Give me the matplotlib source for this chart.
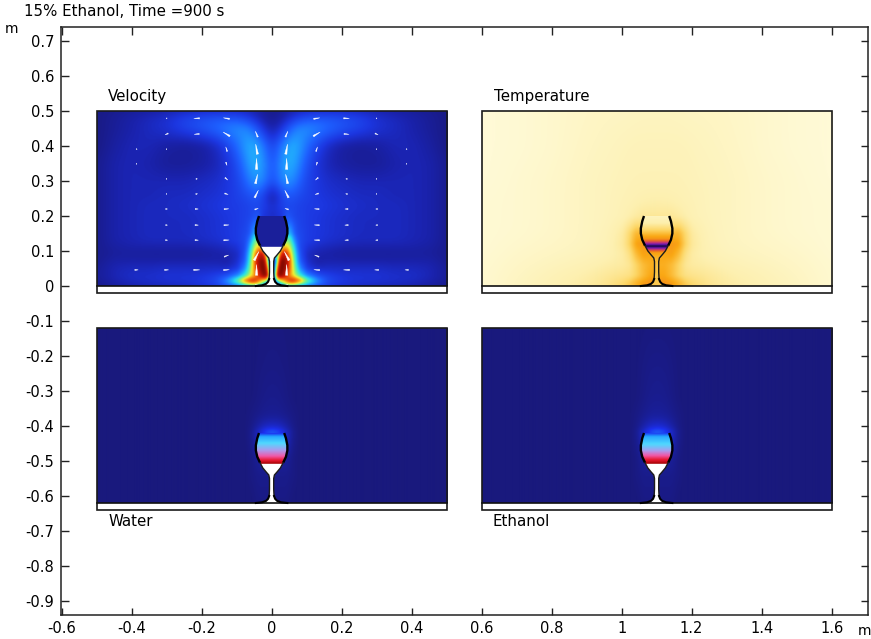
import numpy as np
import matplotlib
matplotlib.use("Agg")
import matplotlib.pyplot as plt
from matplotlib.colors import LinearSegmentedColormap
from matplotlib.collections import PolyCollection
from matplotlib.patches import Polygon, Rectangle

W, H = 871, 639
TITLE = "15% Ethanol, Time =900 s"
XTICKS = [-0.6, -0.4, -0.2, 0, 0.2, 0.4, 0.6, 0.8, 1, 1.2, 1.4, 1.6]
YTICKS = [0.7, 0.6, 0.5, 0.4, 0.3, 0.2, 0.1, 0, -0.1, -0.2, -0.3, -0.4, -0.5, -0.6, -0.7, -0.8, -0.9]
LABELS = ["Velocity", "Temperature", "Water", "Ethanol"]

# Glass half profile (x offset, height)
GLASS_X = [.036, .041, .045, .045, .041, .033, .025, .015, .008, .006, .006, .007, .010, .016, .027, .045]
GLASS_Y = [.200, .185, .165, .150, .132, .115, .100, .088, .080, .070, .040, .020, .012, .006, .002, .000]
SURFACE_Y = .112

# Velocity magnitude (half panel, rows from top to bottom)
VEL_X = [0, .008, .015, .022, .03, .04, .05, .06, .07, .08, .10, .13, .16, .20, .25, .30, .35, .40, .45, .50]
VEL_Y = [.50, .48, .45, .40, .35, .30, .26, .23, .20, .18, .15, .13, .11, .09, .07, .05, .03, .015, .006, 0]
VEL = [
 [.02,.02,.02,.03,.03,.04,.05,.05,.06,.06,.07,.07,.07,.07,.06,.05,.04,.03,.02,.01],
 [.02,.02,.03,.04,.05,.07,.08,.10,.12,.13,.15,.16,.16,.15,.13,.09,.07,.05,.03,.01],
 [.05,.05,.07,.09,.11,.14,.17,.20,.22,.23,.23,.21,.18,.15,.12,.09,.07,.05,.03,.01],
 [.12,.13,.16,.19,.22,.25,.27,.28,.27,.24,.18,.12,.07,.04,.03,.04,.06,.06,.04,.01],
 [.14,.16,.19,.22,.25,.27,.28,.27,.24,.20,.14,.09,.06,.04,.03,.03,.05,.06,.05,.02],
 [.13,.15,.18,.21,.23,.24,.24,.22,.19,.16,.12,.10,.08,.07,.06,.06,.06,.06,.05,.02],
 [.03,.05,.08,.11,.14,.16,.16,.15,.14,.13,.12,.10,.09,.08,.07,.07,.06,.06,.05,.02],
 [.08,.09,.10,.11,.12,.13,.13,.13,.12,.12,.11,.11,.10,.09,.08,.07,.07,.06,.05,.02],
 [.08,.08,.09,.09,.10,.17,.15,.13,.12,.12,.11,.10,.09,.08,.07,.07,.07,.06,.05,.02],
 [.08,.08,.09,.09,.10,.18,.20,.15,.13,.12,.11,.10,.09,.08,.07,.07,.07,.06,.05,.02],
 [.10,.10,.10,.15,.22,.25,.28,.19,.14,.13,.11,.10,.09,.08,.07,.07,.07,.06,.05,.02],
 [.20,.20,.25,.32,.40,.45,.42,.26,.17,.13,.11,.10,.09,.08,.07,.07,.07,.06,.05,.02],
 [.30,.30,.35,.50,.62,.62,.52,.36,.20,.13,.09,.07,.06,.05,.05,.05,.05,.05,.04,.02],
 [.30,.30,.40,.72,.88,.82,.65,.42,.25,.14,.07,.05,.04,.03,.025,.025,.025,.03,.03,.02],
 [.05,.10,.55,.95,1.0,.92,.72,.48,.28,.16,.08,.04,.05,.05,.05,.05,.05,.05,.05,.02],
 [.03,.25,.80,1.0,1.0,.88,.70,.52,.34,.22,.10,.07,.08,.08,.08,.08,.07,.07,.06,.03],
 [.03,.40,.95,1.0,.92,.78,.66,.55,.45,.34,.20,.12,.10,.09,.09,.09,.08,.08,.06,.03],
 [.05,.15,.50,.55,.60,.72,.80,.82,.76,.68,.45,.27,.17,.12,.10,.10,.09,.08,.06,.03],
 [.02,.05,.15,.30,.42,.55,.62,.62,.56,.48,.34,.22,.15,.12,.10,.09,.08,.07,.05,.02],
 [.01,.03,.08,.15,.20,.28,.30,.30,.27,.22,.16,.11,.08,.07,.06,.05,.05,.04,.03,.01],
]
VEL_INNER = .035

# Arrows (half panel): positions and components
ARR_X = [.043, .129, .214, .300, .386, .470]
ARR_Y = [.479, .434, .391, .349, .306, .263, .220, .174, .131, .086, .046, .003]
ARR_U = [
 [  0,  18,  17,   2,   0,   0],
 [  7,  20,  15,   9,   0,   0],
 [  5,   4,   0,   1,   2,   0],
 [  0,  -3,   0,   0,   1,   0],
 [ -6,  -8,  -4,  -1,   0,   0],
 [-11, -10,  -5,  -1,   0,   0],
 [-10, -14,  -9,  -5,   0,   0],
 [  0, -15, -10,  -5,   0,   0],
 [  0, -16, -10,  -6,   0,   0],
 [-14, -13,   0,   0,   0,   0],
 [  0, -17, -18, -12, -10,   0],
 [ -6,   0,   0,   0,   0,   0],
]
ARR_V = [
 [  0,   3,   0,   0,   0,   0],
 [ 17,  12,  -1,  -4,   0,   0],
 [ 30,  13,   0,   0,  -1,   0],
 [ 33,  -9,   0,   0,   0,   0],
 [ 28,  -7,   0,   0,   0,   0],
 [ 22,  -3,   1,   0,   0,   0],
 [  3,   1,   0,   0,   0,   0],
 [  0,   1,   0,   0,   0,   0],
 [  0,   1,   0,   0,   0,   0],
 [ 26,   5,   0,   0,   0,   0],
 [ 32,   1,   0,   0,   0,   0],
 [  1,   0,   0,   0,   0,   0],
]

# Temperature (half panel)
T_X = [0, .02, .04, .06, .08, .10, .15, .20, .30, .40, .50]
T_Y = [.50, .40, .30, .25, .20, .18, .15, .12, .09, .06, .03, .01, 0]
TEMP = [
 [.07,.07,.07,.07,.06,.06,.06,.05,.03,.01,.00],
 [.09,.09,.09,.09,.09,.08,.07,.06,.03,.01,.00],
 [.10,.10,.10,.10,.10,.09,.08,.07,.04,.02,.00],
 [.12,.12,.12,.11,.10,.10,.08,.07,.04,.02,.01],
 [.16,.16,.16,.14,.12,.10,.08,.07,.04,.02,.01],
 [.20,.20,.20,.22,.16,.12,.08,.07,.04,.02,.01],
 [.32,.32,.34,.36,.24,.14,.09,.07,.04,.02,.01],
 [.42,.42,.44,.42,.26,.15,.09,.07,.05,.03,.01],
 [.40,.40,.42,.34,.20,.13,.10,.08,.06,.04,.01],
 [.38,.38,.34,.26,.17,.14,.13,.11,.08,.05,.02],
 [.40,.40,.34,.26,.20,.18,.16,.13,.10,.06,.02],
 [.45,.45,.42,.36,.28,.23,.18,.15,.11,.07,.02],
 [.46,.46,.44,.37,.30,.25,.18,.15,.11,.07,.02],
]
T_IN_Y = [.000, .020, .060, .080, .095, .103, .110, .114, .118, .125, .135, .145, .160, .180, .200]
T_IN   = [.300, .300, .320, .360, .420, .620, .850, 1.00, .850, .650, .450, .380, .260, .130, .080]

# Species concentration, water and ethanol panels
C_X = [0, .02, .04, .06, .08, .12, .20, .50]
C_Y = [.50, .40, .30, .25, .22, .205, .17, .13, .08, 0]
WATER = [
 [.005,.005,.003,.00,.00,.00,.00,.00],
 [.01,.01,.005,.00,.00,.00,.00,.00],
 [.02,.02,.01,.00,.00,.00,.00,.00],
 [.03,.03,.02,.01,.00,.00,.00,.00],
 [.09,.08,.05,.01,.00,.00,.00,.00],
 [.24,.20,.10,.02,.00,.00,.00,.00],
 [.10,.10,.08,.02,.00,.00,.00,.00],
 [.04,.04,.04,.01,.00,.00,.00,.00],
 [.02,.02,.02,.01,.00,.00,.00,.00],
 [.01,.01,.01,.00,.00,.00,.00,.00],
]
ETHANOL = [
 [.005,.005,.003,.00,.00,.00,.00,.00],
 [.015,.015,.01,.00,.00,.00,.00,.00],
 [.025,.025,.015,.00,.00,.00,.00,.00],
 [.04,.04,.025,.01,.00,.00,.00,.00],
 [.10,.09,.05,.01,.00,.00,.00,.00],
 [.25,.21,.11,.02,.00,.00,.00,.00],
 [.10,.10,.08,.02,.00,.00,.00,.00],
 [.04,.04,.04,.01,.00,.00,.00,.00],
 [.02,.02,.02,.01,.00,.00,.00,.00],
 [.01,.01,.01,.00,.00,.00,.00,.00],
]
C_IN_Y = [.112, .122, .135, .150, .165, .175, .190, .200]
W_IN   = [1.00, .820, .670, .550, .460, .400, .320, .150]
E_IN   = [1.00, .840, .690, .540, .440, .390, .320, .170]

CM_VEL = LinearSegmentedColormap.from_list("vel", [(0, "#19197d"), (.05, "#1a22ac"), (.10, "#1c36e0"), (.17, "#1e60ff"),
    (.25, "#20a0ff"), (.33, "#28e0e8"), (.43, "#70f090"), (.55, "#f0f030"), (.68, "#f88010"), (.82, "#d81c08"), (1, "#7a0800")])
CM_T = LinearSegmentedColormap.from_list("temp", [(0, "#fffad6"), (.12, "#fdf0b0"), (.25, "#fdd86a"), (.4, "#faa814"),
    (.55, "#ec6a20"), (.68, "#c03080"), (.82, "#6a18b0"), (1, "#0a0540")])
CM_C = LinearSegmentedColormap.from_list("conc", [(0, "#19197d"), (.15, "#1c30f0"), (.30, "#20a0ff"), (.42, "#50d8ff"),
    (.55, "#b098ec"), (.68, "#f058a8"), (.82, "#e81830"), (1, "#a00000")])


def smooth(a, n, axis):
    k = np.exp(-0.5 * (np.arange(-3 * n, 3 * n + 1) / n) ** 2)
    k /= k.sum()
    pad = 3 * n
    b = np.moveaxis(a, axis, 0)
    b = np.concatenate([np.repeat(b[:1], pad, 0), b, np.repeat(b[-1:], pad, 0)])
    b = np.apply_along_axis(lambda v: np.convolve(v, k, mode="valid"), 0, b)
    return np.moveaxis(b, 0, axis)


def field(x_half, y_desc, z, sharp=3, soft=10):
    """Resample the half-panel table on a pixel raster (top row first)."""
    z = np.asarray(z, float)
    xs = np.array(x_half)
    ys = np.array(y_desc)[::-1]
    z = z[::-1]
    xf = np.abs(np.linspace(-.5, .5, 700))
    yf = np.linspace(0, .5, 350)
    zy = np.array([np.interp(yf, ys, z[:, j]) for j in range(z.shape[1])]).T
    zz = np.array([np.interp(xf, xs, zy[i]) for i in range(zy.shape[0])])
    a = smooth(smooth(zz, sharp, 0), sharp, 1)
    b = smooth(smooth(zz, soft, 0), soft, 1)
    wx = np.clip((xf - .08) / .08, 0, 1)[None, :]
    wy = np.clip((yf - .16) / .1, 0, 1)[:, None]
    w = np.maximum(wx, wy)
    return (a * (1 - w) + b * w)[::-1]


fig = plt.figure(figsize=(W / 100, H / 100), dpi=100)
X0 = 271.6
L, R, T, B = 60.5, 868, 27, 614.7
ax = fig.add_axes([L / W, 1 - B / H, (R - L) / W, (B - T) / H])
xlim = ((L - X0) / 350, (R - X0) / 350)
ylim = ((286 - B) / 350, (286 - T) / 350)
ax.set_xticks(XTICKS)
ax.set_xticklabels(["%g" % v for v in XTICKS])
ax.set_yticks(YTICKS)
ax.set_yticklabels(["%g" % v for v in YTICKS])
ax.tick_params(direction="in", length=5.4, width=1, top=True, right=True, labelsize=10.5, color="#222222",
               labelcolor="black", pad=4.5)
for s in ax.spines.values():
    s.set_linewidth(1.1)
    s.set_color("#222222")

gx = np.array(GLASS_X)
gy = np.array(GLASS_Y)


def glass_poly(cx, y0):
    return np.r_[np.c_[cx - gx, y0 + gy], np.c_[cx + gx[::-1], y0 + gy[::-1]]]


def lower_poly(cx, y0):
    m = gy < SURFACE_Y
    hx = np.r_[np.interp(SURFACE_Y, gy[::-1], gx[::-1]), gx[m]]
    hy = np.r_[SURFACE_Y, gy[m]]
    return np.r_[np.c_[cx - hx, y0 + hy], np.c_[cx + hx[::-1], y0 + hy[::-1]]]


def panel(cx, y0, z, cmap):
    x0 = cx - .5
    ax.imshow(z, extent=[x0, x0 + 1, y0, y0 + .5], cmap=cmap, vmin=0, vmax=1, aspect="auto",
              interpolation="bilinear", zorder=1)
    ax.add_patch(Rectangle((x0, y0 - .02), 1, .02, fc="white", ec="none", zorder=1))


def inner(cx, y0, ys, vals, cmap):
    yf = np.linspace(0, .2, 200)
    col = np.interp(yf, ys, vals)[::-1, None]
    im = ax.imshow(col, extent=[cx - .06, cx + .06, y0, y0 + .2], cmap=cmap, vmin=0, vmax=1, aspect="auto",
                   interpolation="bilinear", zorder=2)
    im.set_clip_path(Polygon(glass_poly(cx, y0), transform=ax.transData))


def outline(cx, y0):
    x0 = cx - .5
    ax.add_patch(Rectangle((x0, y0 - .02), 1, .52, fc="none", ec="#1a1a1a", lw=1.2, zorder=6))
    ax.plot([x0, x0 + 1], [y0, y0], color="#111111", lw=1.2, zorder=6)
    thick = gy >= .115
    thin = (gy <= .115) & (gy >= .02)
    foot = gy <= .02
    for sign in (-1, 1):
        ax.plot(cx + sign * gx[thick], y0 + gy[thick], color="black", lw=1.7, zorder=7, solid_capstyle="butt")
        ax.plot(cx + sign * gx[thin], y0 + gy[thin], color="#1c1c1c", lw=1.0, zorder=7)
        ax.plot(cx + sign * gx[foot], y0 + gy[foot], color="black", lw=1.5, zorder=7)


# Velocity
panel(0, 0, field(VEL_X, VEL_Y, VEL), CM_VEL)
ax.add_patch(Polygon(glass_poly(0, 0), fc=CM_VEL(VEL_INNER), ec="none", zorder=2))
ax.add_patch(Polygon(lower_poly(0, 0), fc="white", ec="none", zorder=3))
tris = []
for i, yy in enumerate(ARR_Y):
    for j, xx in enumerate(ARR_X):
        u, v = ARR_U[i][j] / 1050, ARR_V[i][j] / 1050
        ln = np.hypot(u, v)
        if ln == 0:
            continue
        nx, ny = -v / ln, u / ln
        hw = max(ln * .11, .0016)
        for s in (1, -1):
            xc = s * (xx - u / 2)
            yc = yy - v / 2
            tris.append([(xc + s * u, yc + v), (xc + s * nx * hw, yc + ny * hw), (xc - s * nx * hw, yc - ny * hw)])
ax.add_collection(PolyCollection(tris, facecolors="white", edgecolors="white", linewidths=.3, zorder=4))
outline(0, 0)

# Temperature
panel(1.1, 0, field(T_X, T_Y, TEMP, 3, 16), CM_T)
inner(1.1, 0, T_IN_Y, T_IN, CM_T)
outline(1.1, 0)

# Water, Ethanol
for cx, z, vals in ((0, WATER, W_IN), (1.1, ETHANOL, E_IN)):
    panel(cx, -.62, field(C_X, C_Y, z, 3, 10), CM_C)
    inner(cx, -.62, C_IN_Y, vals, CM_C)
    ax.add_patch(Polygon(lower_poly(cx, -.62), fc="white", ec="none", zorder=3))
    outline(cx, -.62)

ax.set_xlim(*xlim)
ax.set_ylim(*ylim)


def px_text(x, y, s, size=10.85):
    fig.text(x / W, 1 - y / H, s, fontsize=size, color="black", va="center")


px_text(24, 12, TITLE)
px_text(4.5, 29, "m", 10)
px_text(858, 631, "m", 10)
px_text(108, 97, LABELS[0])
px_text(494, 97, LABELS[1])
px_text(108, 521, LABELS[2])
px_text(492, 521, LABELS[3])

fig.savefig("out.png", dpi=100)
